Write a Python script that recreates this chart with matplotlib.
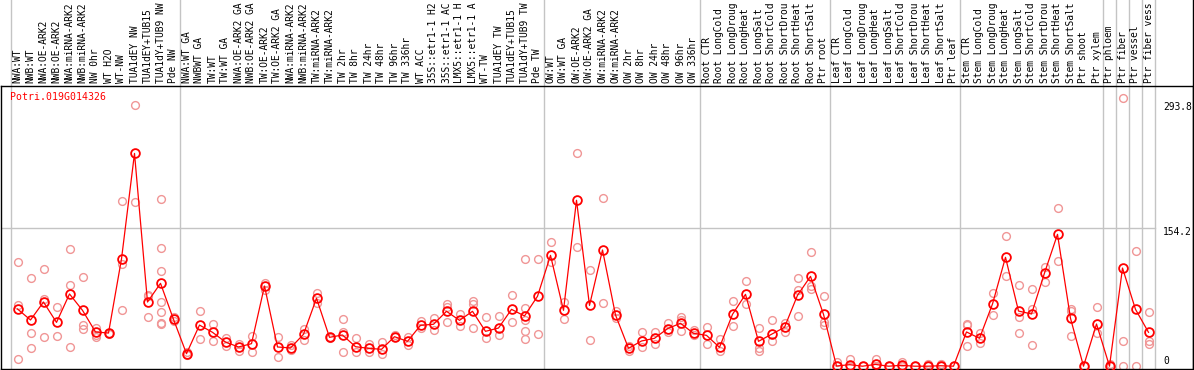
import matplotlib
matplotlib.use('Agg')
import matplotlib.pyplot as plt
import matplotlib.transforms as mtrans
from matplotlib.lines import Line2D
import numpy as np

# sample names (as they show in the header, cut off at the top)
labels = ['NWA:WT', 'NWB:WT', 'NWA:OE-ARK2', 'NWB:OE-ARK2', 'NWA:miRNA-ARK2', 'NWB:miRNA-ARK2',
          'NW 0hr', 'WT H2O', 'WT-NW', 'TUA1dEY NW', 'TUA1dEY+TUB15', 'TUA1dY+TUB9 NW', 'Pde NW',
          'NWA:WT GA', 'NWBWT GA', 'TW:WT', 'TW:WT GA', 'NWA:OE-ARK2 GA', 'NWB:OE-ARK2 GA',
          'TW:OE-ARK2', 'TW:OE-ARK2 GA', 'NWA:miRNA-ARK2', 'NWB:miRNA-ARK2', 'TW:miRNA-ARK2',
          'TW:miRNA-ARK2', 'TW 2hr', 'TW 8hr', 'TW 24hr', 'TW 48hr', 'TW 96hr', 'TW 336hr',
          'WT ACC', '35S::etr1-1 H2', '35S::etr1-1 AC', 'LMX5::etr1-1 H', 'LMX5::etr1-1 A',
          'WT-TW', 'TUA1dEY TW', 'TUA1dEY+TUB15', 'TUA1dY+TUB9 TW', 'Pde TW',
          'OW:WT', 'OW:WT GA', 'OW:OE-ARK2', 'OW:OE-ARK2 GA', 'OW:miRNA-ARK2', 'OW:miRNA-ARK2',
          'OW 2hr', 'OW 8hr', 'OW 24hr', 'OW 48hr', 'OW 96hr', 'OW 336hr',
          'Root CTR', 'Root LongCold', 'Root LongDroug', 'Root LongHeat', 'Root LongSalt',
          'Root ShortCold', 'Root ShortDrou', 'Root ShortHeat', 'Root ShortSalt', 'Ptr root',
          'Leaf CTR', 'Leaf LongCold', 'Leaf LongDroug', 'Leaf LongHeat', 'Leaf LongSalt',
          'Leaf ShortCold', 'Leaf ShortDrou', 'Leaf ShortHeat', 'Leaf ShortSalt', 'Ptr leaf',
          'Stem CTR', 'Stem LongCold', 'Stem LongDroug', 'Stem LongHeat', 'Stem LongSalt',
          'Stem ShortCold', 'Stem ShortDrou', 'Stem ShortHeat', 'Stem ShortSalt', 'Ptr shoot',
          'Ptr xylem', 'Ptr phloem', 'Ptr fiber', 'Ptr vessel', 'Ptr fiber vess']

# mean values
means = [64, 51.7, 71.8, 49, 80.8, 62.5, 38.3, 37.1, 120, 238,
         71.8, 92.7, 52.4, 14, 46, 37.9, 27, 21.5, 25.2, 89.7,
         21.5, 20.4, 35.7, 76, 32.3, 34.9, 21.8, 20, 18.9, 33,
         27.8, 45.7, 46.9, 61.4, 51.3, 61.4, 39, 42.7, 63.6, 56.2,
         78.2, 124, 62.5, 185.6, 68, 130, 57.3, 20, 28.2, 31.2,
         42, 48, 36.8, 34.5, 21.1, 58, 80.4, 27.8, 35.7, 43.5,
         79.3, 100.5, 58, 0.2, 1.7, 0, 2, 0, 1, 0,
         0, 0.5, 0, 38.3, 31.2, 69.6, 121.8, 61.7, 58.4, 104.2,
         147.5, 53.6, 0, 47.2, 0, 109.8, 63.6, 37.9]

# replicate values per sample
reps = [[116.6, 68.5, 7.7], [98.7, 36.8, 20], [108.7, 74.8, 32.3], [65.9, 33.8],
        [131, 90.5, 21.1], [99.4, 46, 41.3], [43, 34.9, 33], [37.1, 35.7],
        [184.4, 114, 62.9], [291.8, 183.3], [80, 78.5, 54.7],
        [186.7, 131.9, 106.2, 71.5, 60.3, 48.7, 46.9], [55.4, 50.6],
        [15.9, 12.5], [61.7, 30.1], [47.2, 28.5], [31.9, 22.3], [25.2, 17], [33.8, 15.9],
        [92.7, 85.2], [32.7, 10.3], [23.7, 18.1], [41.3, 29.3], [81.9, 70.4], [33, 31.2],
        [52.4, 38.3, 15.9], [31.2, 16.2], [25.2, 15.5], [27, 13.3], [34.9, 32.3],
        [33, 23.4], [50.9, 43], [53.9, 40.5], [69.2, 66.2, 49.1], [58.4, 44.6],
        [72.9, 69.6, 43], [54.7, 31.2], [56.2, 35.2], [79.3, 49.1],
        [119.6, 64.8, 51.7, 39, 30.8], [119.6, 36],
        [138.9, 116.9], [72.1, 52.8], [238.1, 133], [107.3, 29.3], [187.8, 70.4],
        [62.1, 53.6], [22.6, 17.3], [38.3, 21.1], [38.3, 24.5], [48.7, 37.9],
        [54.7, 51.7, 39], [40.8, 34.6],
        [43.8, 25.2], [30.1, 16.8], [72.6, 45], [95, 69.6], [42.7, 20.4, 17.3],
        [51.3, 27.8], [48, 38.6], [98.7, 85.2, 56.2], [127.7, 89.4, 86.7], [78.5, 49.4, 46],
        [4.4, 0], [8, 0], [0], [8, 0, 0], [0, 0], [5, 0, 0], [0], [2, 0], [3, 0], [0],
        [47.2, 46, 22.3], [36.8, 26.3], [81.5, 57.3], [145.6, 100.5], [91.2, 55.4, 36.8],
        [86, 63.6, 23.7], [111, 93.8], [176.6, 117.3], [63.6, 61.7, 33.7], [0],
        [65.9, 36.8], [3, 0], [299.7, 28.5, 0], [128.9, 0], [60.3, 28.2, 24.5]]

# group borders (between samples)
borders = [-0.5, 12.5, 40.5, 52.5, 62.5, 72.5, 83.5, 84.5, 85.5, 86.5, 87.5]
ylabels = ['293.8', '154.2', '0']

W, H = 1194, 370
fig = plt.figure(figsize=(W / 100, H / 100), dpi=100)
ax = fig.add_axes([1 / W, 1 - 369 / H, 1192 / W, 283 / H])
x = np.arange(len(labels))

ax.set_xlim((1 - 17.5) / 13, (1193 - 17.5) / 13)
ax.set_ylim((366.2 - 369) / 0.894, (366.2 - 86) / 0.894)
ax.set_xticks([])
ax.set_yticks([])
for s in ax.spines.values():
    s.set_color('black')
    s.set_linewidth(1)

grey = '#c4c4c4'
for b in borders:
    ax.axvline(b, 0, 369 / 283, color=grey, lw=1, clip_on=False, zorder=1)
ax.plot([ax.get_xlim()[0], 87.5], [154.2, 154.2], color=grey, lw=1, zorder=1)

# replicates
rx = [i for i, r in enumerate(reps) for v in r]
ry = [v for r in reps for v in r]
ax.plot(rx, ry, 'o', ms=5.6, mfc='none', mec='#f09696', mew=1.0, zorder=2, clip_on=False)

# means
ax.plot(x, means, '-', color='red', lw=0.9, zorder=3)
ax.plot(x, means, 'o', ms=6.3, mfc='none', mec='red', mew=1.3, zorder=4, clip_on=False)

# header labels
trans = mtrans.blended_transform_factory(ax.transData, ax.transAxes)
for i, lab in enumerate(labels):
    ax.text(i, 1 + 3 / 283, lab, rotation=90, ha='center', va='bottom', transform=trans,
            fontfamily='DejaVu Sans Mono', fontsize=6.9, clip_on=False)

fig.add_artist(Line2D([1192.5 / W, 1192.5 / W], [0, 1], color='black', lw=1))

fig.text(10 / W, 1 - 97 / H, 'Potri.019G014326', color='red', va='center', ha='left',
         fontfamily='DejaVu Sans Mono', fontsize=7.1)
for lab, py in zip(ylabels, [107, 232, 361]):
    fig.text(1163 / W, 1 - py / H, lab, va='center', ha='left',
             fontfamily='DejaVu Sans Mono', fontsize=6.9)

fig.savefig('out.png', dpi=100)
